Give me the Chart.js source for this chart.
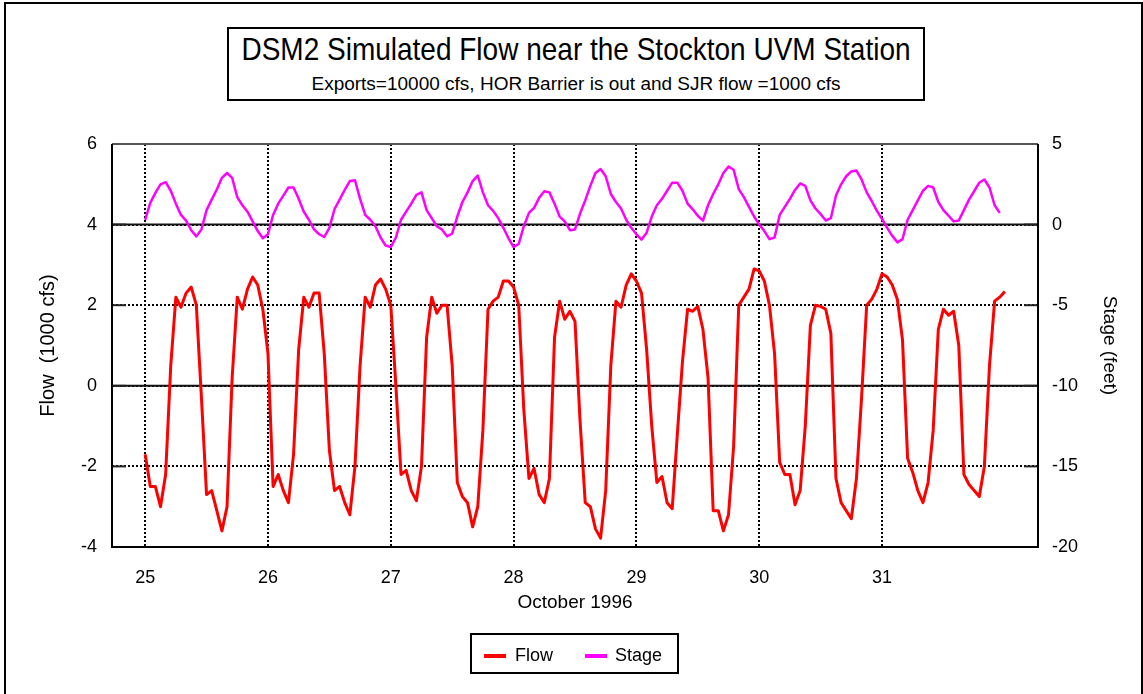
<!DOCTYPE html>
<html>
<head>
<meta charset="utf-8">
<script src="https://cdn.jsdelivr.net/npm/chart.js@4.4.1/dist/chart.umd.min.js"></script>
<style>
  html, body { margin: 0; padding: 0; background: #fff; }
  #wrap { position: relative; width: 1143px; height: 694px; overflow: hidden; font-family: "Liberation Sans", Arial, sans-serif; color: #000; }
  #c { position: absolute; left: 0; top: 0; }
  #frame { position: absolute; left: 4px; top: 2px; width: 1135px; height: 700px; border-left: 2px solid #000; border-top: 2px solid #000; border-right: 2px solid #000; }
  #titlebox { position: absolute; left: 227px; top: 27px; width: 694px; height: 70px; border: 2px solid #000; background: #fff; }
  #title { position: absolute; left: 0; right: 0; top: 5px; text-align: center; font-size: 28px; line-height: 32px; white-space: nowrap; transform: scaleY(1.1); }
  #subtitle { position: absolute; left: 0; right: 0; top: 45px; text-align: center; font-size: 19px; line-height: 20px; white-space: nowrap; transform: scaleY(0.92); }
  #legend { position: absolute; left: 470px; top: 633px; width: 205px; height: 37px; border: 2px solid #000; background: #fff; }
  .sw { position: absolute; top: 19px; width: 22px; height: 4px; }
  .lt { position: absolute; top: 9px; font-size: 18px; line-height: 22px; white-space: nowrap; }
</style>
</head>
<body>
<div id="wrap">
  <canvas id="c" width="1143" height="694"></canvas>
  <div id="frame"></div>
  <div id="titlebox">
    <div id="title">DSM2 Simulated Flow near the Stockton UVM Station</div>
    <div id="subtitle">Exports=10000 cfs, HOR Barrier is out and SJR flow =1000 cfs</div>
  </div>
  <div id="legend">
    <div class="sw" id="sw0" style="left:12px;"></div>
    <div class="lt" id="lt0" style="left:43px;"></div>
    <div class="sw" id="sw1" style="left:113px;"></div>
    <div class="lt" id="lt1" style="left:143px;"></div>
  </div>
</div>
<script>
// ---- data (hourly values starting 25 Oct 1996 00:00) ----
const START_DAY = 25;
const HOURS_PER_DAY = 24;
const seriesNames = ["Flow", "Stage"];
const seriesColors = ["#FF0000", "#FF00FF"];
const dayTicks = [25, 26, 27, 28, 29, 30, 31];
const xAxisTitle = "October 1996";
const flowAxisTitle = "Flow  (1000 cfs)";
const stageAxisTitle = "Stage (feet)";

// Flow (1000 cfs), hourly
const flow = [
  -1.7, -2.5, -2.5, -3.0, -2.2, 0.5, 2.2, 1.95, 2.3, 2.45, 2.0, -0.3,
  -2.7, -2.6, -3.1, -3.6, -3.0, 0.2, 2.2, 1.9, 2.4, 2.7, 2.5, 1.9,
  0.8, -2.5, -2.2, -2.6, -2.9, -1.7, 0.9, 2.2, 1.95, 2.3, 2.3, 0.8,
  -1.6, -2.6, -2.5, -2.9, -3.2, -2.0, 0.5, 2.2, 1.95, 2.5, 2.65, 2.4,
  2.0, 0.0, -2.2, -2.1, -2.6, -2.85, -2.0, 1.2, 2.2, 1.8, 2.0, 2.0,
  0.5, -2.4, -2.75, -2.9, -3.5, -3.0, -1.1, 1.9, 2.1, 2.2, 2.6, 2.6,
  2.45, 2.0, -0.6, -2.3, -2.05, -2.7, -2.9, -2.3, 1.2, 2.1, 1.65, 1.85,
  1.6, -0.9, -2.9, -3.0, -3.55, -3.78, -2.6, 0.5, 2.1, 1.95, 2.5, 2.78,
  2.6, 2.3, 0.9, -1.0, -2.4, -2.25, -2.9, -3.05, -1.2, 0.6, 1.9, 1.85,
  1.97, 1.4, 0.2, -3.1, -3.1, -3.6, -3.2, -1.5, 2.0, 2.2, 2.4, 2.9,
  2.85, 2.6, 2.0, 0.8, -1.9, -2.2, -2.2, -2.95, -2.6, -1.0, 1.5, 2.0,
  1.97, 1.9, 1.3, -2.3, -2.9, -3.1, -3.3, -2.3, -0.3, 2.0, 2.15, 2.4,
  2.78, 2.7, 2.5, 2.14, 1.14, -1.8, -2.15, -2.6, -2.9, -2.4, -1.1, 1.4,
  1.9, 1.75, 1.85, 1.0, -2.2, -2.45, -2.6, -2.75, -2.0, 0.5, 2.1, 2.2,
  2.34
];

// Stage (feet), hourly
const stage = [
  0.3, 1.35, 1.97, 2.49, 2.63, 2.1, 1.3, 0.6, 0.25, -0.35, -0.73, -0.3,
  0.9, 1.55, 2.18, 2.9, 3.2, 2.9, 1.7, 1.2, 0.8, 0.2, -0.4, -0.85,
  -0.6, 0.6, 1.3, 1.8, 2.3, 2.3, 1.6, 0.8, 0.3, -0.3, -0.6, -0.77,
  -0.2, 0.95, 1.55, 2.15, 2.7, 2.75, 1.6, 0.6, 0.3, -0.1, -0.8, -1.3,
  -1.4, -0.8, 0.3, 0.8, 1.3, 1.85, 2.0, 0.9, 0.4, -0.1, -0.3, -0.73,
  -0.55, 0.5, 1.4, 2.0, 2.7, 3.04, 2.0, 1.2, 0.85, 0.4, -0.2, -0.85,
  -1.39, -1.2, -0.1, 0.73, 1.04, 1.66, 2.07, 2.0, 1.3, 0.5, 0.2, -0.35,
  -0.3, 0.7, 1.5, 2.4, 3.2, 3.45, 3.0, 1.9, 1.4, 1.0, 0.3, -0.2,
  -0.6, -0.93, -0.5, 0.5, 1.2, 1.6, 2.1, 2.6, 2.6, 2.1, 1.3, 0.95,
  0.55, 0.25, 1.2, 1.9, 2.5, 3.2, 3.6, 3.4, 2.2, 1.7, 1.1, 0.5,
  0.0, -0.4, -0.9, -0.8, 0.6, 1.1, 1.6, 2.15, 2.55, 2.4, 1.5, 1.0,
  0.65, 0.25, 0.4, 1.8, 2.5, 3.0, 3.3, 3.35, 2.8, 2.0, 1.45, 0.85,
  0.35, -0.2, -0.7, -1.1, -0.9, 0.3, 0.9, 1.5, 2.1, 2.4, 2.3, 1.4,
  0.9, 0.55, 0.2, 0.25, 0.9, 1.55, 2.07, 2.6, 2.8, 2.3, 1.2, 0.73
];

const flowTicks = { min: -4, max: 6, step: 2 };
const stageTicks = { min: -20, max: 5, step: 5 };

// ---- build chart ----
const toPoints = arr => arr.map((v, i) => ({ x: START_DAY + i / HOURS_PER_DAY, y: v }));

const FONT = "'Liberation Sans', Arial, sans-serif";

// legend (HTML text)
[0, 1].forEach(i => {
  document.getElementById('sw' + i).style.background = seriesColors[i];
  document.getElementById('lt' + i).textContent = seriesNames[i];
});

const CHART_LEFT = 112, CHART_RIGHT = 1038, CHART_TOP = 144, CHART_BOTTOM = 547;
const W = 1143, H = 694;

const decor = {
  id: 'decor',
  beforeDatasetsDraw(chart) {
    const { ctx, chartArea: a, scales } = chart;
    ctx.save();
    ctx.strokeStyle = '#111';
    ctx.lineWidth = 2;
    [scales.y.getPixelForValue(0), scales.y1.getPixelForValue(0)].forEach(py => {
      ctx.beginPath(); ctx.moveTo(a.left, py); ctx.lineTo(a.right, py); ctx.stroke();
    });
    ctx.strokeStyle = '#222';
    scales.y.ticks.forEach(t => {
      const py = scales.y.getPixelForValue(t.value);
      ctx.beginPath(); ctx.moveTo(a.left, py); ctx.lineTo(a.left + 14, py); ctx.stroke();
    });
    scales.y1.ticks.forEach(t => {
      const py = scales.y1.getPixelForValue(t.value);
      ctx.beginPath(); ctx.moveTo(a.right - 14, py); ctx.lineTo(a.right, py); ctx.stroke();
    });
    ctx.restore();
  },
  afterDatasetsDraw(chart) {
    const { ctx, chartArea: a } = chart;
    ctx.save();
    ctx.lineWidth = 2;
    ctx.strokeStyle = '#555';
    ctx.beginPath(); ctx.moveTo(a.left, a.top); ctx.lineTo(a.right, a.top); ctx.stroke();
    ctx.strokeStyle = '#000';
    ctx.beginPath();
    ctx.moveTo(a.left, a.top); ctx.lineTo(a.left, a.bottom); ctx.lineTo(a.right, a.bottom); ctx.lineTo(a.right, a.top);
    ctx.stroke();
    ctx.restore();
  }
};

new Chart(document.getElementById('c'), {
  type: 'line',
  data: {
    datasets: [
      { label: seriesNames[0], data: toPoints(flow), yAxisID: 'y', borderColor: seriesColors[0], borderWidth: 3, pointRadius: 0, fill: false, borderJoinStyle: 'round' },
      { label: seriesNames[1], data: toPoints(stage), yAxisID: 'y1', borderColor: seriesColors[1], borderWidth: 2.5, pointRadius: 0, fill: false, borderJoinStyle: 'round' }
    ]
  },
  options: {
    responsive: false,
    animation: false,
    devicePixelRatio: 1,
    layout: { padding: { top: CHART_TOP, left: 0, right: 0, bottom: 0 } },
    elements: { line: { tension: 0 } },
    plugins: { legend: { display: false }, tooltip: { enabled: false } },
    scales: {
      x: {
        type: 'linear',
        min: 24.73, max: 32.27,
        afterBuildTicks: s => { s.ticks = dayTicks.map(v => ({ value: v })); },
        afterFit: s => { s.height = H - CHART_BOTTOM; },
        ticks: { font: { family: FONT, size: 18 }, color: '#000', padding: 20, maxRotation: 0, autoSkip: false, callback: v => String(v) },
        grid: { color: '#000', lineWidth: 2, drawTicks: false },
        border: { display: false, dash: [2, 2] },
        title: { display: true, text: xAxisTitle, font: { family: FONT, size: 19 }, color: '#000', padding: { top: 0, bottom: 80 } }
      },
      y: {
        position: 'left',
        min: flowTicks.min, max: flowTicks.max,
        afterFit: s => { s.width = CHART_LEFT; },
        ticks: { stepSize: flowTicks.step, font: { family: FONT, size: 18 }, color: '#000', padding: 15 },
        grid: {
          color: c => (c.tick && (c.tick.value === flowTicks.max || c.tick.value === flowTicks.min)) ? 'rgba(0,0,0,0)' : '#000',
          lineWidth: 2, drawTicks: false
        },
        border: { display: false, dash: [2, 2] },
        title: { display: true, text: flowAxisTitle, font: { family: FONT, size: 20 }, color: '#000', padding: { top: 36, bottom: 0 } }
      },
      y1: {
        position: 'right',
        min: stageTicks.min, max: stageTicks.max,
        afterFit: s => { s.width = W - CHART_RIGHT; },
        ticks: { stepSize: stageTicks.step, font: { family: FONT, size: 18 }, color: '#000', padding: 14 },
        grid: { drawOnChartArea: false, drawTicks: false },
        border: { display: false },
        title: { display: true, text: stageAxisTitle, font: { family: FONT, size: 19 }, color: '#000', padding: { top: 22, bottom: 0 } }
      }
    }
  },
  plugins: [decor]
});
</script>
</body>
</html>
